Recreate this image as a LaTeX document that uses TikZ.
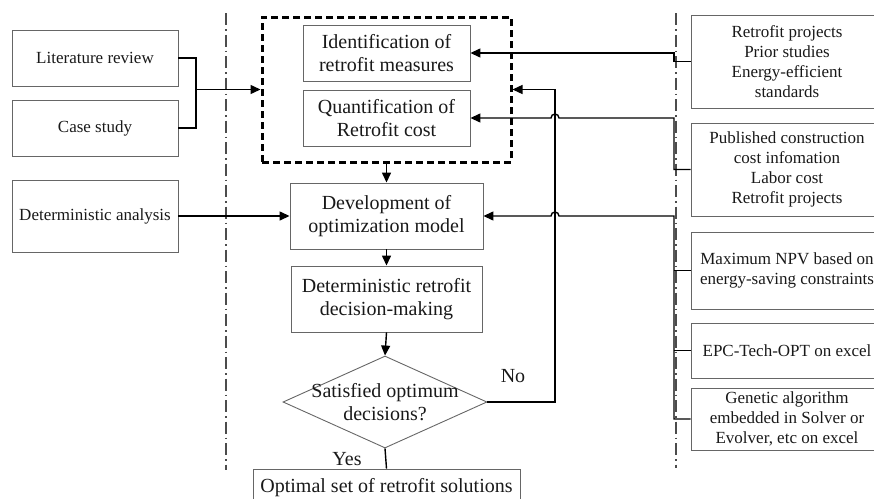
\documentclass[tikz,border=0pt]{standalone}
\usepackage{fontspec}
\setmainfont{Liberation Serif}
\usetikzlibrary{arrows.meta, shapes.geometric, calc}

\newcommand{\flowsize}{\fontsize{20}{23}\selectfont}
\newcommand{\sidesize}{\fontsize{17}{20}\selectfont}

\begin{document}
\begin{tikzpicture}[x=1pt, y=-1pt,
    box/.style={draw=black!60, line width=0.9pt, align=center, inner sep=0pt, font=\flowsize, text=black!90},
    sidebox/.style={box, font=\sidesize},
    decision/.style={draw=black!60, line width=0.9pt, shape=diamond, inner sep=0pt},
    link/.style={line width=1.4pt},
    arr/.style={link, -{Triangle[length=10pt, width=9pt]}},
    divider/.style={black!70, line width=1.1pt, dash pattern=on 12pt off 4pt on 1.5pt off 4pt}]
    \useasboundingbox (0,0) rectangle (874,498);
    \clip (0,0) rectangle (874,498);

    % Dividers
    \draw[divider] (226,13) -- (226,470);
    \draw[divider] (676,13) -- (676,468);

    % Left inputs
    \node[sidebox, minimum width=166pt, minimum height=56pt] (lit) at (95,58) {Literature review};
    \node[sidebox, minimum width=166pt, minimum height=56pt] (case) at (95,128) {Case study};
    \node[sidebox, minimum width=166pt, minimum height=72pt] (detan) at (95,216) {Deterministic analysis};

    % Main flow
    \node[draw, line width=3pt, dash pattern=on 7pt off 4pt, minimum width=249pt, minimum height=145pt, inner sep=0pt] (prep) at (386.5,89.5) {};
    \node[box, minimum width=167pt, minimum height=56pt] (ident) at (386.5,53) {Identification of\\retrofit measures};
    \node[box, minimum width=167pt, minimum height=56pt] (quant) at (386.5,118) {Quantification of\\Retrofit cost};
    \node[box, minimum width=193pt, minimum height=66pt] (devel) at (386.5,216) {Development of\\optimization model};
    \node[box, minimum width=191pt, minimum height=66pt] (decis) at (386.5,299) {Deterministic retrofit\\decision-making};
    \node[decision, minimum width=204pt, minimum height=92pt,
          label={[font=\flowsize, align=center, text=black!90]center:Satisfied optimum\\decisions?}] (sat) at (385,402) {};
    \node[box, minimum width=267pt, minimum height=38pt] (opt) at (386.5,488) {Optimal set of retrofit solutions};
    \node[font=\flowsize, text=black!90] (no) at (513,376) {No};
    \node[font=\flowsize, text=black!90] (yes) at (347,459) {Yes};

    % Right inputs
    \node[sidebox, minimum width=192pt, minimum height=93pt] (rp) at (787,61.5) {Retrofit projects\\Prior studies\\Energy-efficient\\standards};
    \node[sidebox, minimum width=192pt, minimum height=93pt] (pub) at (787,169.5) {Published construction\\cost infomation\\Labor cost\\Retrofit projects};
    \node[sidebox, minimum width=192pt, minimum height=77pt] (npv) at (787,270.5) {Maximum NPV based on\\energy-saving constraints};
    \node[sidebox, minimum width=192pt, minimum height=55pt] (epc) at (787,350.5) {EPC-Tech-OPT on excel};
    \node[sidebox, minimum width=192pt, minimum height=62pt] (ga) at (787,419) {Genetic algorithm\\embedded in Solver or\\Evolver, etc on excel};

    % Bend points
    \coordinate (merge) at (196,0);
    \coordinate (bus) at (674,0);
    \coordinate (loop) at (555,0);

    % Connectors
    \draw[link] (lit.east) -| (merge |- prep.west) |- (case.east);
    \draw[arr] (merge |- prep.west) -- (prep.west);
    \draw[arr] (detan.east) -- (devel.west);
    \draw[arr] (prep.south) -- (devel.north);
    \draw[arr] (devel.south) -- (decis.north);
    \draw[arr] (decis.south) -- (sat.north);
    \draw[link] (sat.south) -- (opt.north);
    \draw[arr] (sat.east) -| (prep.east -| loop) -- (prep.east);
    \draw[arr] (rp.west) -- (rp.west -| bus) |- (ident.east);
    \draw[arr] (pub.west) -- (pub.west -| bus) |- ($(quant.east -| loop)+(4,0)$)
        arc[start angle=0, end angle=180, radius=4pt] -- (quant.east);
    \draw[arr] (ga.west) -- (ga.west -| bus) -- (devel.east -| bus) -- ($(devel.east -| loop)+(4,0)$)
        arc[start angle=0, end angle=180, radius=4pt] -- (devel.east);
    \draw[link] (npv.west) -- (npv.west -| bus);
    \draw[link] (epc.west) -- (epc.west -| bus);
\end{tikzpicture}
\end{document}
